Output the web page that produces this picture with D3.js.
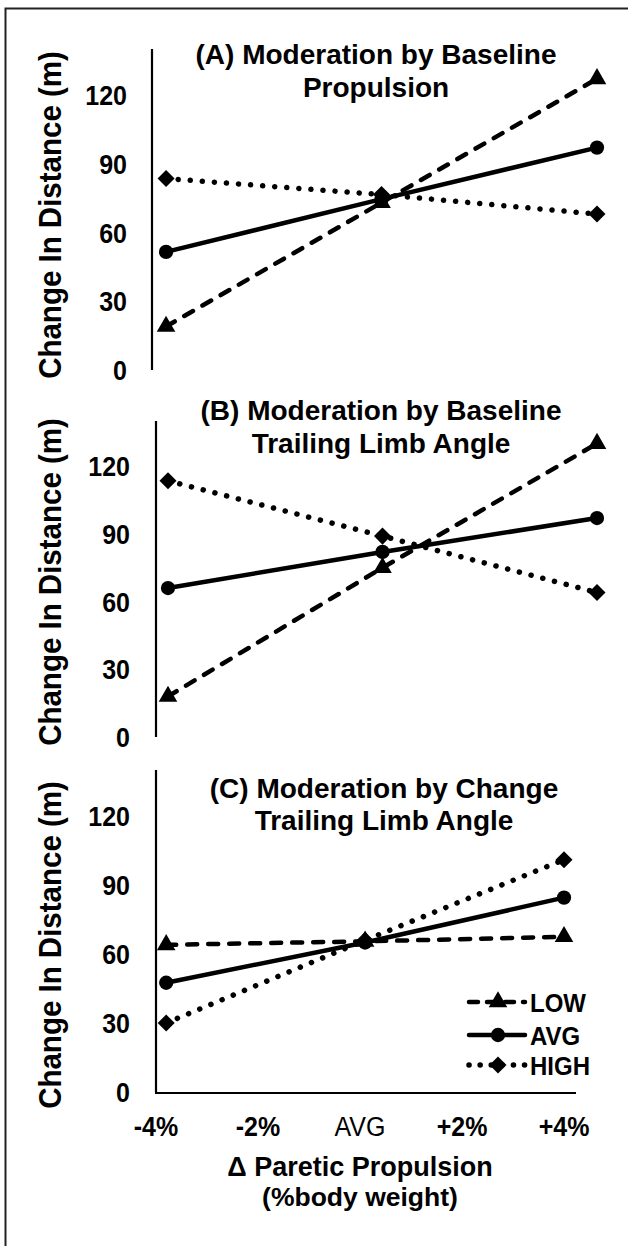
<!DOCTYPE html>
<html><head><meta charset="utf-8">
<script src="https://cdn.jsdelivr.net/npm/d3@7/dist/d3.min.js"></script>
<style>
body{margin:0;background:#fff}
svg{display:block}
text{font-family:Arial,"Liberation Sans",sans-serif;fill:#000}
</style>
</head><body>
<svg id="chart" width="628" height="1246"></svg>
<script>
// ---------- data ----------
const xCategories = ["-4%", "AVG", "+4%"];
const xValues = [-3.8, 0.1, 4.0];          // where the points sit on the %-axis
const xTickValues = [-4, -2, 0, 2, 4];
const xTickLabels = ["-4%", "-2%", "AVG", "+2%", "+4%"];
const yTickValues = [0, 30, 60, 90, 120];
const seriesNames = ["LOW", "AVG", "HIGH"];
const panelTitles = [
  ["(A) Moderation by Baseline", "Propulsion"],
  ["(B) Moderation by Baseline", "Trailing Limb Angle"],
  ["(C) Moderation by Change", "Trailing Limb Angle"]
];
const panelA_low  = [19, 73, 127];
const panelA_avg  = [51.5, 74.5, 97];
const panelA_high = [83.5, 76.5, 68];
const panelB_low  = [18, 75, 130];
const panelB_avg  = [66, 82, 97];
const panelB_high = [113.5, 89, 64];
const panelC_low  = [64, 65.5, 67.5];
const panelC_avg  = [47.5, 65, 84.5];
const panelC_high = [30, 66, 101];
const yTitle = "Change In Distance (m)";
const xTitle = ["\u0394 Paretic Propulsion", "(%body weight)"];

const panelData = [
  [panelA_low, panelA_avg, panelA_high],
  [panelB_low, panelB_avg, panelB_high],
  [panelC_low, panelC_avg, panelC_high]
];

// ---------- layout ----------
const layout = [
  {axisX:152, xr:[155,597], y0:370, yTop:49,  tickX:127, titleX:376, t1:64,  t2:97,  yTitleX:50, yTitleY:215, xAxis:false},
  {axisX:156, xr:[157,597], y0:737, yTop:421, tickX:130, titleX:381, t1:420, t2:453, yTitleX:50, yTitleY:582, xAxis:false},
  {axisX:156, xr:[156,564], y0:1092,yTop:770, tickX:130, titleX:384, t1:798, t2:830, yTitleX:50, yTitleY:945, xAxis:true}
];

const diamond = {draw(ctx, size){ const r = Math.sqrt(size/2);
  ctx.moveTo(0,-r); ctx.lineTo(r,0); ctx.lineTo(0,r); ctx.lineTo(-r,0); ctx.closePath(); }};

const styles = {
  LOW:  {dash:"10 11", cap:"round", width:4.5, marker:d3.symbolTriangle, size:150},
  AVG:  {dash:null,    cap:"round", width:4.5, marker:d3.symbolCircle,   size:160},
  HIGH: {dash:"0.1 12", cap:"round", width:5.5, marker:diamond,          size:145}
};

function txt(sel, x, y, str, size, weight, anchor, sy) {
  return sel.append("text")
    .attr("transform", `translate(${x},${y}) scale(1,${sy || 1})`)
    .attr("text-anchor", anchor || "middle")
    .attr("font-size", size).attr("font-weight", weight || "bold").text(str);
}

const svg = d3.select("#chart");

// frame
svg.append("path").attr("d","M5.5,1246 L5.5,8.5 L628,8.5")
  .attr("fill","none").attr("stroke","#222").attr("stroke-width",2);

layout.forEach((L, pi) => {
  const x = d3.scaleLinear().domain([-4,4]).range(L.xr);
  const y = d3.scaleLinear().domain([0,140]).range([L.y0, L.yTop]);
  const g = svg.append("g");

  // y axis line
  g.append("line").attr("x1",L.axisX).attr("x2",L.axisX)
    .attr("y1",y(0)).attr("y2",y(140)).attr("stroke","#000").attr("stroke-width",2.2);

  // y tick labels
  yTickValues.forEach(v => {
    txt(g, L.tickX, y(v), v, 25, "bold", "end", 1.13).attr("dy","0.36em");
  });

  // y title
  g.append("text")
    .attr("transform",`translate(${L.yTitleX},${L.yTitleY}) scale(1.08,1) rotate(-90)`)
    .attr("text-anchor","middle").attr("dy","0.36em")
    .attr("font-size",29.5).attr("font-weight","bold").text(yTitle);

  // panel title
  txt(g, L.titleX, L.t1, panelTitles[pi][0], 28, "bold");
  txt(g, L.titleX, L.t2, panelTitles[pi][1], 28, "bold");

  if (L.xAxis) {
    g.append("line").attr("x1",L.axisX-1).attr("x2",576)
      .attr("y1",y(0)+1).attr("y2",y(0)+1).attr("stroke","#000").attr("stroke-width",2.2);
    xTickValues.forEach((v,i) => {
      txt(g, x(v), 1136, xTickLabels[i], 25, xTickLabels[i]==="AVG" ? "normal" : "bold", "middle", 1.13);
    });
    txt(g, 360, 1176, xTitle[0], 27, "bold");
    txt(g, 360, 1206, xTitle[1], 26.5, "bold");
  }

  const line = d3.line().x((d,i)=>x(xValues[i])).y(d=>y(d));
  const order = [2,1,0];
  order.forEach(si => {
    const st = styles[seriesNames[si]];
    const vals = panelData[pi][si];
    const p = g.append("path").attr("d",line(vals)).attr("fill","none")
      .attr("stroke","#000").attr("stroke-width",st.width).attr("stroke-linecap",st.cap);
    if (st.dash) p.attr("stroke-dasharray",st.dash);
  });
  order.forEach(si => {
    const st = styles[seriesNames[si]];
    const vals = panelData[pi][si];
    g.selectAll(null).data(vals).join("path")
      .attr("transform",(d,i)=>`translate(${x(xValues[i])},${y(d)})`)
      .attr("d",d3.symbol().type(st.marker).size(st.size)).attr("fill","#000");
  });
});

// legend (panel C)
const legY = [1002, 1035, 1065];
seriesNames.forEach((name, i) => {
  const st = styles[name];
  const lg = svg.append("g");
  const p = lg.append("line").attr("x1",469).attr("x2",525).attr("y1",legY[i]).attr("y2",legY[i])
    .attr("stroke","#000").attr("stroke-width",st.width).attr("stroke-linecap",st.cap);
  if (st.dash) p.attr("stroke-dasharray", name==="LOW" ? "9 9" : "0.1 11");
  lg.append("path").attr("transform",`translate(498,${legY[i]})`)
    .attr("d",d3.symbol().type(st.marker).size(st.size)).attr("fill","#000");
  txt(lg, 530, legY[i], name, 24, "bold", "start", 1.1).attr("dy","0.36em");
});
</script>
</body></html>
